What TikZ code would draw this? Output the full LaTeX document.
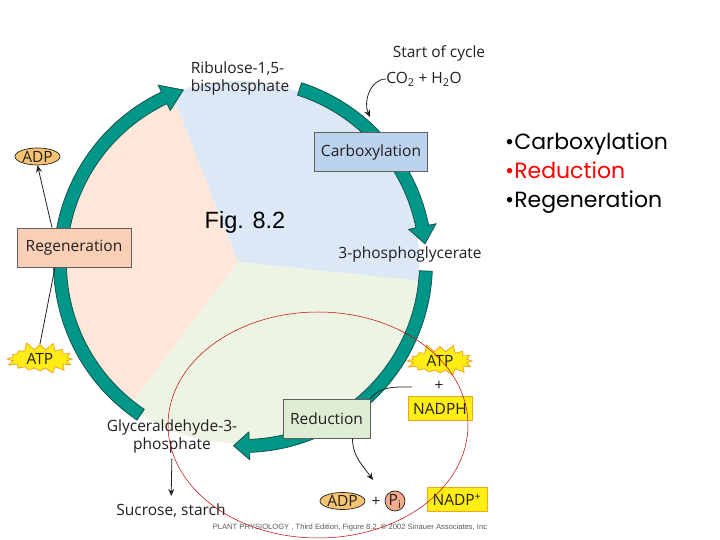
\documentclass[tikz,border=0pt]{standalone}
\usepackage{fontspec}
\setmainfont{Open Sans}
\newfontfamily\figfont{Liberation Sans}
\newfontfamily\listfont{Poppins}
\usetikzlibrary{shapes.geometric,shapes.symbols,arrows.meta}
\definecolor{ink}{RGB}{35,31,32}
\definecolor{bandfill}{RGB}{0,150,136}
\definecolor{bandline}{RGB}{15,75,70}
\definecolor{bluepart}{RGB}{220,232,246}
\definecolor{peachpart}{RGB}{253,231,218}
\definecolor{greenpart}{RGB}{237,244,227}
\definecolor{bluebox}{RGB}{188,211,238}
\definecolor{peachbox}{RGB}{249,207,182}
\definecolor{greenbox}{RGB}{224,237,213}
\definecolor{burst}{RGB}{255,238,20}
\definecolor{burstline}{RGB}{240,165,35}
\definecolor{adpfill}{RGB}{246,196,112}
\definecolor{pifill}{RGB}{242,170,140}
\definecolor{boxline}{RGB}{95,95,95}
\newcommand{\cyclearc}[3]{%
  \filldraw[band] (#1:189.5pt) arc[start angle=#1, end angle=#2, radius=189.5pt]
    -- (#2:197pt) -- (#3:183pt) -- (#2:169pt) -- (#2:176.5pt)
    arc[start angle=#2, end angle=#1, radius=176.5pt] -- cycle;}

\begin{document}
\begin{tikzpicture}[x=1pt, y=1pt, >={Stealth[length=7pt, width=6pt]},
    lbl/.style={font=\fontsize{15.5}{18}\selectfont, text=ink, inner sep=0pt},
    stage/.style={lbl, draw=boxline, line width=0.8pt, minimum height=39pt},
    energy/.style={lbl, starburst, starburst points=16, starburst point height=8.5pt, random starburst=5, fill=burst, draw=burstline, line width=0.8pt, inner xsep=6pt, inner ysep=1pt},
    reagent/.style={lbl, fill=burst, draw=burstline, line width=1pt, minimum height=24pt},
    spent/.style={lbl, ellipse, fill=adpfill, draw=ink, line width=0.7pt, minimum height=17pt, inner sep=0pt},
    band/.style={fill=bandfill, draw=bandline, line width=0.7pt}]
  \useasboundingbox (0,0) rectangle (720,540);
  % the three parts of the cycle
  \begin{scope}[shift={(238,278)}]
    \fill[bluepart] (0,0) -- (-6:181pt) arc[start angle=-6, end angle=111.5, radius=181pt] -- cycle;
    \fill[peachpart] (0,0) -- (111.5:181pt) arc[start angle=111.5, end angle=233, radius=181pt] -- cycle;
    \fill[greenpart] (0,0) -- (233:181pt) arc[start angle=233, end angle=354, radius=181pt] -- cycle;
  \end{scope}
  \begin{scope}[shift={(243,277)}]
    \cyclearc{236}{115.5}{109}
    \cyclearc{72}{11.5}{6}
    \cyclearc{-2.5}{-88}{-93}
  \end{scope}

  \node[stage, fill=bluebox, minimum width=113pt] (carbox) at (371,388) {Carboxylation};
  \node[stage, fill=peachbox, minimum width=114pt] (regen) at (74,292.5) {Regeneration};
  \node[stage, fill=greenbox, minimum width=87pt] (reduct) at (326.5,121.5) {Reduction};

  \node[lbl, align=left] (rubp) at (240,462) {Ribulose-1,5-\\bisphosphate};
  \node[lbl] (start) at (439,487) {Start of cycle};
  \node[lbl] (co2) at (424,461) {CO\textsubscript{2} + H\textsubscript{2}O};
  \coordinate (co2in) at (370,423);
  \draw[->, thick, ink] (co2.west) to[out=180, in=115] (co2in);
  \node[font=\figfont\fontsize{23.5}{28}\selectfont, inner sep=0pt] (fig) at (245,318) {Fig. 8.2};
  \node[lbl] (pga) at (410,286) {3-phosphoglycerate};

  \node[spent, minimum width=45pt] (adpL) at (37.5,383.5) {ADP};
  \node[energy] (atpL) at (40,181) {ATP};
  \draw[ink, thick] (atpL.north) -- ([xshift=-19pt]regen.south);
  \draw[->, ink, thick] ([xshift=-22pt]regen.north) -- (adpL.south);

  \node[energy] (atpR) at (440,179) {ATP};
  \node[lbl] (plus) at (439,154) {+};
  \node[reagent, minimum width=64pt] (nadph) at (440,131.5) {NADPH};
  \coordinate (cofin) at (412,153);
  \draw[ink, thick] (cofin) to[out=180, in=50] (reduct.north east);
  \coordinate (reductout) at (373,60);
  \draw[->, ink, thick] ([xshift=26pt]reduct.south) to[out=-90, in=125] (reductout);
  \node[spent, minimum width=45pt] (adpR) at (342.5,39) {ADP};
  \node[lbl] (plusB) at (376,38) {+};
  \node[lbl, circle, fill=pifill, draw=ink, line width=0.7pt, minimum size=20pt] (pi) at (395,39) {P\textsubscript{i}};
  \node[reagent, minimum width=60pt] (nadpp) at (457,40) {NADP\textsuperscript{+}};

  \node[lbl, align=center] (gap) at (172,104) {Glyceraldehyde-3-\\phosphate};
  \node[lbl] (sucrose) at (171,29) {Sucrose, starch};
  \draw[->, ink, thick, shorten <=6pt, shorten >=8pt] (gap.south) -- (sucrose.north);
  \node[font=\figfont\fontsize{7.6}{9}\selectfont, text=black!65, inner sep=0pt] (credit) at (350,12) {PLANT PHYSIOLOGY , Third Edition, Figure 8.2, \textcopyright{} 2002 Sinauer Associates, Inc};

  \draw[red!75!black, line width=0.5pt] (318,115) ellipse [x radius=150, y radius=113];

  \node[font=\listfont\fontsize{22}{29}\selectfont, align=left, anchor=west, inner sep=0pt] (steps) at (505,367) {•Carboxylation\\{\color{red}•Reduction}\\•Regeneration};
\end{tikzpicture}
\end{document}
